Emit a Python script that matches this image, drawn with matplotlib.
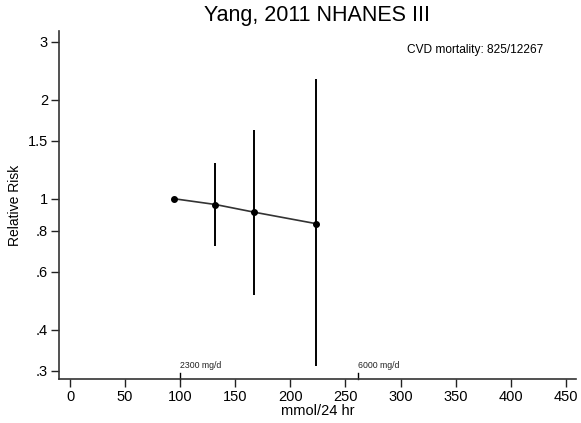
import matplotlib
matplotlib.use("Agg")
import matplotlib.pyplot as plt
from matplotlib.ticker import FixedLocator, FixedFormatter, NullLocator

plt.rcParams['font.family'] = ['Liberation Sans', 'DejaVu Sans']

# Data
sodium = [94, 132, 167, 223]
rr = [1.0, 0.96, 0.91, 0.84]
rr_lo = [1.0, 0.72, 0.51, 0.31]
rr_hi = [1.0, 1.28, 1.62, 2.31]

xticks = [0, 50, 100, 150, 200, 250, 300, 350, 400, 450]
yticks = [0.3, 0.4, 0.6, 0.8, 1, 1.5, 2, 3]
ytick_labels = [".3", ".4", ".6", ".8", "1", "1.5", "2", "3"]

ref_x = [100, 261]
ref_labels = ["2300 mg/d", "6000 mg/d"]

title = "Yang, 2011 NHANES III"
note = "CVD mortality: 825/12267"

fig = plt.figure(figsize=(5.81, 4.23), dpi=100)
ax = fig.add_axes([59/581, (423-379.3)/423, (575.7-59)/581, (379.3-31)/423])

ax.set_yscale('log')
ax.set_xlim(-10, 459)
ax.set_ylim(0.2825, 3.233)

# error bars
ax.vlines(sodium, rr_lo, rr_hi, colors='black', linewidth=1.4)
# trend line + points
ax.plot(sodium, rr, color='#333333', linewidth=1.2, zorder=3)
ax.plot(sodium, rr, 'o', color='black', markersize=4, zorder=4)

# reference ticks and labels
for xv, lab in zip(ref_x, ref_labels):
    ax.plot([xv, xv], [0, 0.018], transform=ax.get_xaxis_transform(),
            color='black', linewidth=1.0, clip_on=False)
    ax.text(xv, 0.026, lab, transform=ax.get_xaxis_transform(),
            fontsize=6.3, ha='left', va='bottom', color='#222222')

ax.yaxis.set_major_locator(FixedLocator(yticks))
ax.yaxis.set_major_formatter(FixedFormatter(ytick_labels))
ax.yaxis.set_minor_locator(NullLocator())
ax.set_xticks(xticks)

for s in ['top', 'right']:
    ax.spines[s].set_visible(False)
for s in ['left', 'bottom']:
    ax.spines[s].set_linewidth(1.2)
    ax.spines[s].set_color('#333333')

ax.tick_params(axis='both', which='major', direction='out', length=6, width=1.0,
               labelsize=10.5, pad=2, colors='#222222', labelcolor='black')

ax.set_xlabel("mmol/24 hr", fontsize=10.5, labelpad=0)
ax.set_ylabel("Relative Risk", fontsize=10, labelpad=4)

fig.text(317/581, 1 - 16/423, title, fontsize=15.5, ha='center', va='center')
fig.text(406.7/581, 1 - 50/423, note, fontsize=8.6, ha='left', va='center')

fig.savefig("out.png", dpi=100)
